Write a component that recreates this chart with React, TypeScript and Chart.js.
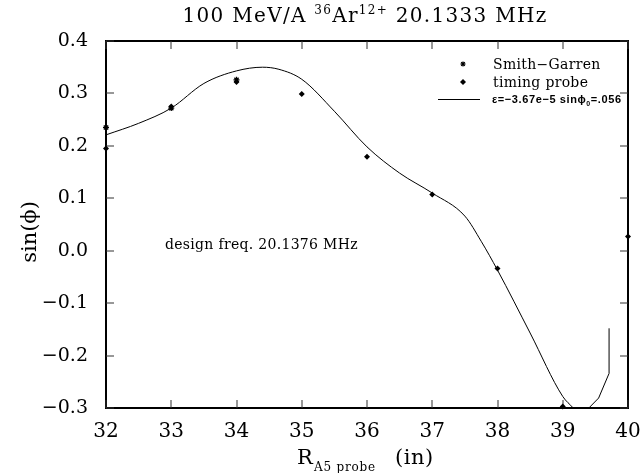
import React, { useEffect, useRef } from "react";
import { Chart, registerables } from "chart.js";

Chart.register(...registerables);

const xMin = 32;
const xMax = 40;
const yMin = -0.3;
const yMax = 0.4;

// Smith-Garren measurements
const sgX = [32, 33, 34];
const sgY = [0.235, 0.272, 0.326];

// Timing probe measurements
const tpX = [32, 33, 34, 35, 36, 37, 38, 39, 40];
const tpY = [0.195, 0.275, 0.322, 0.299, 0.179, 0.107, -0.034, -0.297, 0.027];

// Fit curve (smooth part)
const curveX = [32.0, 32.5, 33.0, 33.5, 34.0, 34.4, 34.65, 35.0, 35.5, 36.0, 36.5, 37.0, 37.5, 37.75, 38.0, 38.5, 39.0, 39.16, 39.28, 39.4];
const curveY = [0.221, 0.243, 0.272, 0.319, 0.343, 0.350, 0.346, 0.327, 0.266, 0.198, 0.148, 0.110, 0.066, 0.018, -0.037, -0.157, -0.278, -0.300, -0.318, -0.300];

// Fit curve tail (piecewise)
const tailX = [39.4, 39.55, 39.71, 39.71];
const tailY = [-0.3, -0.281, -0.234, -0.148];

const SERIF = '"DejaVu Serif", serif';

const zip = (xs: number[], ys: number[]) => xs.map((x, i) => ({ x, y: ys[i] }));

const fmt = (v: number) => v.toFixed(1).replace("-", "\u2212");

const framePlugin = {
  id: "frame",
  beforeDatasetsDraw(chart: any) {
    const ctx = chart.ctx as CanvasRenderingContext2D;
    const ca = chart.chartArea;
    const xs = chart.scales.x;
    const ys = chart.scales.y;
    const left = Math.round(ca.left);
    const right = Math.round(ca.right);
    const top = Math.round(ca.top);
    const bottom = Math.round(ca.bottom);
    ctx.save();
    ctx.fillStyle = "#000000";
    ctx.fillRect(left - 1, top - 1, right - left + 2, 2);
    ctx.fillRect(left - 1, bottom - 1, right - left + 2, 2);
    ctx.fillRect(left - 1, top - 1, 2, bottom - top + 2);
    ctx.fillRect(right - 1, top - 1, 2, bottom - top + 2);
    ctx.fillStyle = "#333333";
    const tl = 8;
    for (let v = xMin; v <= xMax + 1e-9; v += 1) {
      const px = Math.round(xs.getPixelForValue(v));
      ctx.fillRect(px - 0.5, bottom - tl, 1, tl);
      ctx.fillRect(px - 0.5, top, 1, tl);
    }
    for (let k = 0; k <= 7; k++) {
      const v = yMin + k * 0.1;
      const py = Math.round(ys.getPixelForValue(v));
      ctx.fillRect(left, py - 0.5, tl, 1);
      ctx.fillRect(right - tl, py - 0.5, tl, 1);
    }
    ctx.restore();
  },
};

const textPlugin = {
  id: "texts",
  afterDraw(chart: any) {
    const ctx = chart.ctx as CanvasRenderingContext2D;
    ctx.save();
    ctx.fillStyle = "#000";
    ctx.strokeStyle = "#000";
    ctx.textBaseline = "alphabetic";
    ctx.textAlign = "left";

    const drawSegs = (segs: [string, string, number][], x0: number, y0: number, spacing: string) => {
      let cx = x0;
      (ctx as any).letterSpacing = spacing;
      segs.forEach(([s, f, dy]) => {
        ctx.font = f;
        ctx.fillText(s, cx, y0 + dy);
        cx += ctx.measureText(s).width;
      });
      (ctx as any).letterSpacing = "0px";
      return cx;
    };
    const measureSegs = (segs: [string, string, number][], spacing: string) => {
      let w = 0;
      (ctx as any).letterSpacing = spacing;
      segs.forEach(([s, f]) => {
        ctx.font = f;
        w += ctx.measureText(s).width;
      });
      (ctx as any).letterSpacing = "0px";
      return w;
    };

    // Title with superscripts
    const big = `20px ${SERIF}`;
    const sup = `12px ${SERIF}`;
    const tsegs: [string, string, number][] = [
      ["100 MeV/A ", big, 0],
      ["36", sup, -8],
      ["Ar", big, 0],
      ["12+", sup, -8],
      [" 20.1333 MHz", big, 0],
    ];
    const tw = measureSegs(tsegs, "1.3px");
    drawSegs(tsegs, 365 - tw / 2, 22, "1.3px");

    // X axis title
    ctx.font = `21px ${SERIF}`;
    ctx.fillText("R", 297, 464);
    (ctx as any).letterSpacing = "0.8px";
    ctx.font = `12px ${SERIF}`;
    ctx.fillText("A5 probe", 314, 471);
    (ctx as any).letterSpacing = "0.5px";
    ctx.font = `21px ${SERIF}`;
    ctx.fillText("(in)", 395, 464);
    (ctx as any).letterSpacing = "0px";

    // Y axis title
    ctx.save();
    ctx.translate(36, 232);
    ctx.rotate(-Math.PI / 2);
    ctx.font = `21px ${SERIF}`;
    ctx.textAlign = "center";
    ctx.fillText("sin(\u03D5)", 0, 0);
    ctx.restore();

    // Annotation
    ctx.font = `14px ${SERIF}`;
    ctx.textAlign = "left";
    (ctx as any).letterSpacing = "0.3px";
    ctx.fillText("design freq. 20.1376 MHz", 165, 249);
    (ctx as any).letterSpacing = "0px";

    // Legend markers
    const mx = 463;
    ctx.lineWidth = 1.2;
    ctx.beginPath();
    for (let k = 0; k < 4; k++) {
      const a = (k * Math.PI) / 4;
      ctx.moveTo(mx - 2.6 * Math.cos(a), 64 - 2.6 * Math.sin(a));
      ctx.lineTo(mx + 2.6 * Math.cos(a), 64 + 2.6 * Math.sin(a));
    }
    ctx.stroke();
    ctx.beginPath();
    ctx.moveTo(mx, 79);
    ctx.lineTo(mx + 3, 82);
    ctx.lineTo(mx, 85);
    ctx.lineTo(mx - 3, 82);
    ctx.closePath();
    ctx.fill();
    ctx.lineWidth = 1;
    ctx.beginPath();
    ctx.moveTo(438, 99.5);
    ctx.lineTo(480, 99.5);
    ctx.stroke();

    ctx.font = `14px ${SERIF}`;
    (ctx as any).letterSpacing = "0.3px";
    ctx.fillText("Smith\u2212Garren", 493, 69);
    ctx.fillText("timing probe", 493, 87);
    (ctx as any).letterSpacing = "0px";

    const ef = `bold 11px "Liberation Sans", Arial, sans-serif`;
    const esegs: [string, string, number][] = [
      ["\u03B5=\u22123.67e\u22125 sin\u03D5", ef, 0],
      ["0", `bold 7px "Liberation Sans", Arial, sans-serif`, 3],
      ["=.056", ef, 0],
    ];
    drawSegs(esegs, 492, 103, "0.6px");

    ctx.restore();
  },
};

export default function App() {
  const ref = useRef<HTMLCanvasElement | null>(null);

  useEffect(() => {
    if (!ref.current) return;
    const chart = new Chart(ref.current, {
      type: "scatter",
      data: {
        datasets: [
          {
            type: "line",
            label: "fit",
            data: zip(curveX, curveY),
            borderColor: "#000",
            borderWidth: 1,
            pointRadius: 0,
            cubicInterpolationMode: "monotone",
            fill: false,
          } as any,
          {
            type: "line",
            label: "fit tail",
            data: zip(tailX, tailY),
            borderColor: "#000",
            borderWidth: 1,
            pointRadius: 0,
            tension: 0,
            fill: false,
          } as any,
          {
            label: "Smith-Garren",
            data: zip(sgX, sgY),
            pointStyle: "star",
            pointRadius: 3,
            borderColor: "#000",
            backgroundColor: "#000",
            borderWidth: 1.3,
            clip: false,
          } as any,
          {
            label: "timing probe",
            data: zip(tpX, tpY),
            pointStyle: "rectRot",
            pointRadius: 3,
            borderColor: "#000",
            backgroundColor: "#000",
            borderWidth: 0,
            clip: false,
          } as any,
        ],
      },
      options: {
        animation: false,
        responsive: false,
        layout: { padding: { left: 0, top: 41, right: 13, bottom: 0 } },
        plugins: {
          legend: { display: false },
          title: { display: false },
          tooltip: { enabled: false },
        },
        scales: {
          x: {
            type: "linear",
            min: xMin,
            max: xMax,
            grid: { display: false, drawTicks: false },
            border: { display: false },
            ticks: {
              stepSize: 1,
              color: "#000",
              padding: 12,
              maxRotation: 0,
              font: { family: SERIF, size: 20 },
            },
            afterFit: (s: any) => {
              s.height = 65;
              s.paddingLeft = 0;
              s.paddingRight = 0;
            },
          },
          y: {
            type: "linear",
            min: yMin,
            max: yMax,
            grid: { display: false, drawTicks: false },
            border: { display: false },
            ticks: {
              stepSize: 0.1,
              color: "#000",
              padding: 18,
              font: { family: SERIF, size: 19 },
              callback: (v: any) => fmt(Number(v)),
            },
            afterFit: (s: any) => {
              s.width = 106;
              s.paddingTop = 0;
              s.paddingBottom = 0;
            },
          },
        },
      },
      plugins: [framePlugin, textPlugin],
    });
    return () => chart.destroy();
  }, []);

  return (
    <div style={{ position: "absolute", left: 0, top: 0, width: 641, height: 473, background: "#fff" }}>
      <canvas ref={ref} width={641} height={473} />
    </div>
  );
}
